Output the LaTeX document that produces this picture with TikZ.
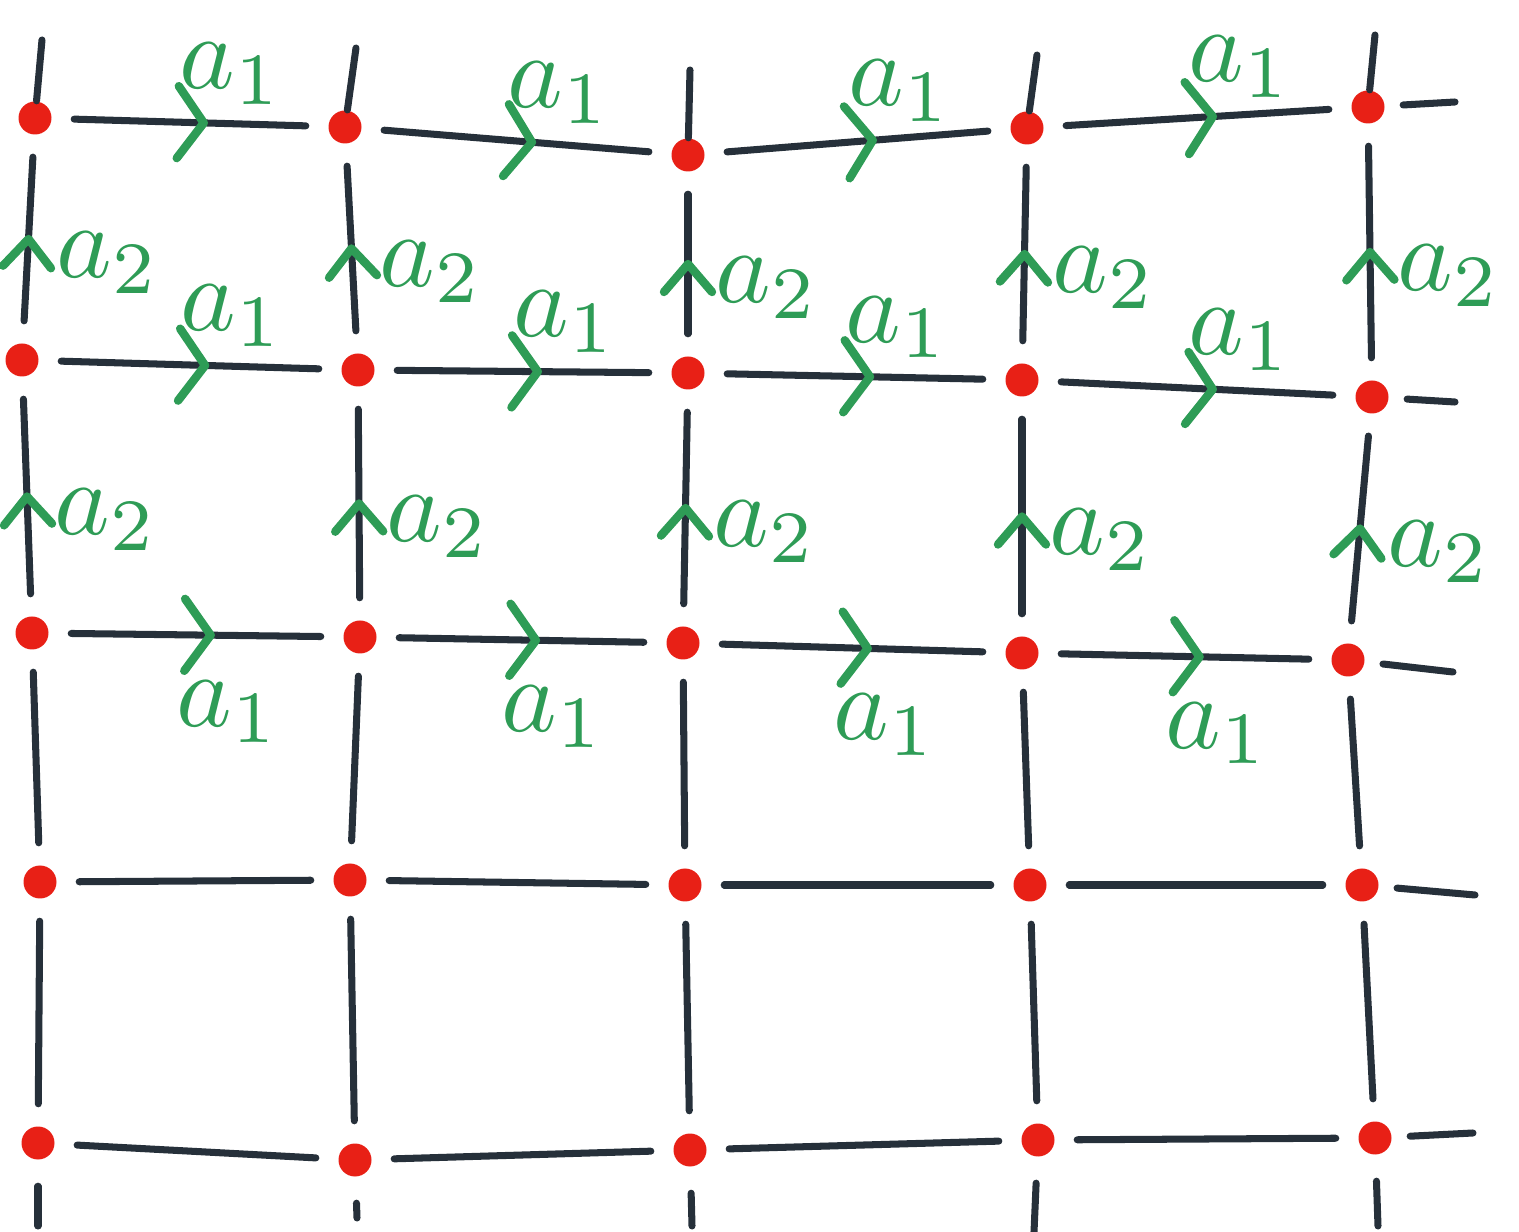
\documentclass[tikz,border=0pt]{standalone}
\usetikzlibrary{decorations.markings}
\definecolor{dotred}{RGB}{232,32,22}
\definecolor{ink}{RGB}{38,48,58}
\definecolor{penGreen}{RGB}{46,156,86}

\tikzset{
  dot/.style={circle, fill=dotred, inner sep=0pt, minimum size=3.3mm},
  line/.style={draw=ink, line width=2pt, line cap=round},
  edge/.style={line, shorten >=2.2mm, shorten <=2.2mm},
  stub/.style={line, shorten <=#1},
  stub/.default=2.2mm,
  chev/.style={penGreen, line width=2.4pt, line cap=round, line join=round,
    shorten >=0pt, shorten <=0pt},
  hgen/.style={decoration={markings, mark=at position 0.55 with
      {\draw[chev] (-2.6mm,-3.6mm) -- (0,0) -- (-2.6mm,3.6mm);}},
    postaction={decorate}},
  vgen/.style={decoration={markings, mark=at position 0.5 with
      {\draw[chev] (-2.8mm,-2.4mm) -- (0,0) -- (-2.8mm,2.4mm);}},
    postaction={decorate}},
  lab/.style={text=penGreen, scale=3, inner sep=0.5pt},
  % shifts first, so that the scale does not stretch them
  labup/.style={pos=0.55, xshift=-4mm, yshift=0.3mm, anchor=south west, lab},
  labdown/.style={pos=0.55, xshift=-5mm, yshift=-3mm, anchor=north west, lab},
  labright/.style={pos=0.5, xshift=1.2mm, yshift=2.3mm, anchor=north west, lab}
}

\begin{document}
\begin{tikzpicture}[x=0.1mm, y=-0.1mm]
\useasboundingbox (0,0) rectangle (1519,1232);

% lattice points
\node[dot] (p11) at (35,118) {};
\node[dot] (p12) at (345,127) {};
\node[dot] (p13) at (688,155) {};
\node[dot] (p14) at (1027,128) {};
\node[dot] (p15) at (1368,107) {};

\node[dot] (p21) at (22,360) {};
\node[dot] (p22) at (358,370) {};
\node[dot] (p23) at (688,373) {};
\node[dot] (p24) at (1022,380) {};
\node[dot] (p25) at (1372,397) {};

\node[dot] (p31) at (32,633) {};
\node[dot] (p32) at (360,637) {};
\node[dot] (p33) at (683,643) {};
\node[dot] (p34) at (1022,653) {};
\node[dot] (p35) at (1348,660) {};

\node[dot] (p41) at (40,882) {};
\node[dot] (p42) at (350,880) {};
\node[dot] (p43) at (685,885) {};
\node[dot] (p44) at (1030,885) {};
\node[dot] (p45) at (1362,885) {};

\node[dot] (p51) at (38,1143) {};
\node[dot] (p52) at (355,1160) {};
\node[dot] (p53) at (690,1150) {};
\node[dot] (p54) at (1038,1140) {};
\node[dot] (p55) at (1375,1138) {};

% loose ends of the lattice
\coordinate (t1) at (42,40);
\coordinate (t2) at (356,48);
\coordinate (t3) at (690,70);
\coordinate (t4) at (1037,55);
\coordinate (t5) at (1375,35);
\coordinate (b1) at (38,1226);
\coordinate (b2) at (357,1218);
\coordinate (b3) at (692,1226);
\coordinate (b4) at (1034,1232);
\coordinate (b5) at (1378,1226);
\coordinate (r1) at (1455,102);
\coordinate (r2) at (1455,402);
\coordinate (r3) at (1453,672);
\coordinate (r4) at (1475,895);
\coordinate (r5) at (1473,1133);

% horizontal edges
\foreach \c [evaluate=\c as \n using int(\c+1)] in {1,...,4} {
  \draw[edge, hgen] (p1\c) -- node[labup] {$a_1$} (p1\n);
  \draw[edge, hgen] (p2\c) -- node[labup] {$a_1$} (p2\n);
  \draw[edge, hgen] (p3\c) -- node[labdown] {$a_1$} (p3\n);
  \draw[edge] (p4\c) -- (p4\n);
  \draw[edge] (p5\c) -- (p5\n);
}

% vertical edges
\foreach \c in {1,...,5} {
  \draw[edge, vgen] (p2\c) -- node[labright] {$a_2$} (p1\c);
  \draw[edge, vgen] (p3\c) -- node[labright] {$a_2$} (p2\c);
  \draw[edge] (p4\c) -- (p3\c);
  \draw[edge] (p5\c) -- (p4\c);
  \draw[line] (t\c) -- (p1\c);
  \draw[stub=2.6mm] (p5\c) -- (b\c);
}

\foreach \r in {1,...,5}
  \draw[stub=1.8mm] (p\r5) -- (r\r);
\end{tikzpicture}
\end{document}
